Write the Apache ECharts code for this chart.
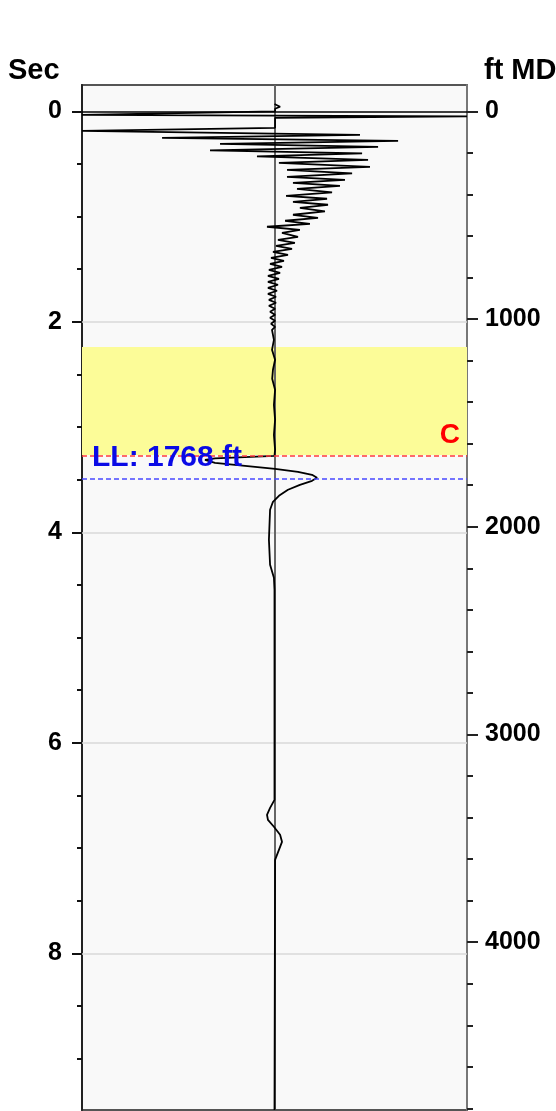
<!DOCTYPE html>
<html><head><meta charset="utf-8">
<script src="https://cdn.jsdelivr.net/npm/echarts/dist/echarts.min.js"></script>
<style>html,body{margin:0;padding:0;background:#fff}#c{width:556px;height:1111px}</style>
</head><body><div id="c"></div>
<script>
// Trace: time (sec) and normalized amplitude (-1 .. 1, clipped at plot edges)
const traceTime = [-0.07,-0.043,-0.024,0.0,0.033,0.048,0.062,0.157,0.185,0.223,
0.252,0.280,0.309,0.337,0.371,0.399,0.428,0.461,0.489,0.527,
0.556,0.589,0.622,0.651,0.679,0.708,0.736,0.770,0.803,0.831,
0.860,0.888,0.917,0.950,0.983,1.012,1.040,1.069,1.097,1.126,
1.154,1.192,1.221,1.249,1.278,1.306,1.335,1.363,1.392,1.420,
1.449,1.477,1.506,1.534,1.563,1.591,1.620,1.648,1.677,1.705,
1.734,1.762,1.791,1.819,1.848,1.876,1.905,1.933,1.962,1.990,
2.019,2.048,2.076,2.171,2.266,2.361,2.456,2.542,2.646,2.789,
2.931,3.074,3.216,3.273,3.297,3.311,3.340,3.368,3.397,3.425,
3.454,3.482,3.511,3.549,3.596,3.653,3.710,3.786,4.071,4.309,
4.432,4.546,6.542,6.618,6.684,6.732,6.798,6.874,6.941,7.017,
7.112,9.49];
const traceAmp = [0.0,0.029,0.003,0.003,-1.0,1.0,0.003,0.003,-1.0,0.444,
-0.584,0.642,-0.283,0.538,-0.335,0.455,-0.091,0.486,0.023,0.496,
0.065,0.403,0.065,0.366,0.096,0.340,0.117,0.299,0.060,0.273,
0.096,0.278,0.132,0.262,0.096,0.226,0.055,0.184,-0.039,0.132,
0.039,0.122,0.018,0.106,0.008,0.091,-0.008,0.070,-0.018,0.049,
-0.023,0.039,-0.029,0.029,-0.034,0.023,-0.034,0.018,-0.034,0.013,
-0.034,0.008,-0.029,0.008,-0.029,0.003,-0.023,0.003,-0.023,0.003,
-0.018,0.003,-0.013,-0.003,-0.013,0.003,-0.008,-0.012,0.003,-0.003,
0.003,-0.003,0.003,0.0,-0.309,-0.361,-0.309,-0.153,0.003,0.122,
0.195,0.221,0.195,0.132,0.070,0.023,-0.008,-0.023,-0.029,-0.023,
-0.003,0.0,0.0,-0.023,-0.039,-0.034,-0.003,0.029,0.039,0.023,
0.003,0.0];

const secRange = [-0.25, 9.489];
const ftRange = [-126.6, 4808];
const secTicks = [0, 2, 4, 6, 8];
const secMinorTicks = [0.5,1,1.5,2.5,3,3.5,4.5,5,5.5,6.5,7,7.5,8.5,9];
const ftTicks = [0, 1000, 2000, 3000, 4000];
const ftMinorTicks = [200,400,600,800,1200,1400,1600,1800,2200,2400,2600,2800,3200,3400,3600,3800,4200,4400,4600,4800];
const gridSec = [2, 4, 6, 8];
const zoneSec = [2.24, 3.265];
const collarSec = 3.265;
const collarLabel = 'C';
const llFt = 1768;
const llLabel = 'LL: 1768 ft';
const leftName = 'Sec';
const rightName = 'ft MD';

const FONT = "'Liberation Sans', Arial, sans-serif";
const chart = echarts.init(document.getElementById('c'), null, {renderer: 'canvas'});

const traceData = traceTime.map((t, i) => [traceAmp[i], t]);

function yAx(pos, range, ticks, len, color, labelMargin, showLabel, showLine, lineColor) {
  return {
    type: 'value', position: pos, inverse: true, min: range[0], max: range[1],
    axisLine: {show: showLine, onZero: false, lineStyle: {color: lineColor, width: 2}},
    axisTick: {show: true, customValues: ticks, length: len, lineStyle: {color: color, width: 2}},
    axisLabel: {show: showLabel, customValues: ticks, margin: labelMargin, color: '#000',
      fontSize: 25, fontWeight: 'bold', fontFamily: FONT, formatter: v => String(v)},
    splitLine: {show: false}
  };
}

chart.setOption({
  animation: false,
  backgroundColor: '#ffffff',
  grid: {left: 82, right: 89, top: 85, bottom: 1, show: true,
    backgroundColor: '#f9f9f9', borderColor: '#555', borderWidth: 2},
  xAxis: {type: 'value', min: -1, max: 1, show: false, axisLine: {onZero: false}},
  yAxis: [
    yAx('left', secRange, secTicks, 10, '#111', 20, true, true, '#222'),
    yAx('right', ftRange, ftTicks, 11, '#222', 18, true, true, '#777'),
    yAx('left', secRange, secMinorTicks, 5, '#111', 8, false, false, '#222'),
    yAx('right', ftRange, ftMinorTicks, 6, '#222', 8, false, false, '#777')
  ],
  graphic: [
    {type: 'text', left: 8, top: 56, style: {text: leftName, font: "bold 29px 'Liberation Sans', Arial", fill: '#000'}},
    {type: 'text', left: 484, top: 56, style: {text: rightName, font: "bold 29px 'Liberation Sans', Arial", fill: '#000'}}
  ],
  series: [
    {
      type: 'line', data: [[0, 0]], showSymbol: false, symbol: 'none', silent: true,
      lineStyle: {width: 0}, z: 1,
      markArea: {silent: true, z: 1, itemStyle: {color: '#fcfc98'},
        data: [[{yAxis: zoneSec[0]}, {yAxis: zoneSec[1]}]]},
      markLine: {silent: true, z: 2, symbol: ['none', 'none'], label: {show: false},
        data: [
          ...gridSec.map(v => ({yAxis: v, lineStyle: {color: '#d8d8d8', width: 1.5, type: 'solid'}})),
          {xAxis: 0, lineStyle: {color: '#666', width: 2, type: 'solid'}},
          {yAxis: 0, lineStyle: {color: '#000', width: 1.5, type: 'solid'}}
        ]}
    },
    {
      type: 'line', data: traceData, showSymbol: false, symbol: 'none', silent: true, clip: true,
      lineStyle: {color: '#000', width: 1.8}, z: 10
    },
    {
      type: 'line', data: [[0, 0]], yAxisIndex: 0, showSymbol: false, symbol: 'none', silent: true,
      lineStyle: {width: 0}, z: 12,
      markLine: {silent: true, z: 12, symbol: ['none', 'none'],
        data: [{yAxis: collarSec, lineStyle: {color: '#ff3b3b', width: 1.6, type: [5, 3]},
          label: {show: true, formatter: collarLabel, position: 'insideEndTop', distance: [7, 6],
            color: '#ff0000', fontSize: 28, fontWeight: 'bold', fontFamily: FONT}}]}
    },
    {
      type: 'line', data: [[0, 0]], yAxisIndex: 1, showSymbol: false, symbol: 'none', silent: true,
      lineStyle: {width: 0}, z: 12,
      markLine: {silent: true, z: 12, symbol: ['none', 'none'],
        data: [{yAxis: llFt, lineStyle: {color: '#4848ff', width: 1.6, type: [5, 3]},
          label: {show: true, formatter: llLabel, position: 'insideStartTop', distance: [10, 6],
            color: '#0a0ae6', fontSize: 30, fontWeight: 'bold', fontFamily: FONT}}]}
    }
  ]
});
</script>
</body></html>
